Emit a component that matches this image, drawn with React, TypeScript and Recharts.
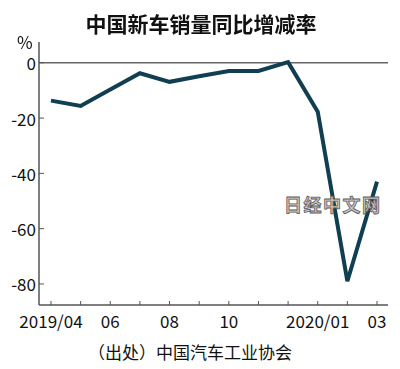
import React from 'react';
import { LineChart, Line, XAxis, YAxis, ReferenceLine } from 'recharts';

const months = ['2019/04', '2019/05', '2019/06', '2019/07', '2019/08', '2019/09', '2019/10', '2019/11', '2019/12', '2020/01', '2020/02', '2020/03'];
const tickLabels = ['2019/04', '', '06', '', '08', '', '10', '', '', '2020/01', '', '03'];
const salesChange = [-13.7, -15.6, -9.7, -3.8, -6.9, -4.9, -3.0, -3.0, 0.2, -17.7, -79.0, -43.0];
const yTicks = [0, -20, -40, -60, -80];

const data = months.map((m, i) => ({ month: m, label: tickLabels[i], value: salesChange[i] }));

const FONT = '"Noto Sans CJK SC", "Noto Sans", sans-serif';

const XTick = (props: any) => {
  const { x, y, index } = props;
  const label = tickLabels[index] ?? '';
  return (
    <g>
      <line x1={x} y1={y - 4} x2={x} y2={y} stroke="#555" strokeWidth={1} />
      {label ? (
        <text x={x} y={y + 23} textAnchor="middle" fontSize={17} fill="#111" fontFamily={FONT}>
          {label}
        </text>
      ) : null}
    </g>
  );
};

const YTick = (props: any) => {
  const { x, y, payload } = props;
  return (
    <g>
      <line x1={x} y1={y} x2={x + 5} y2={y} stroke="#555" strokeWidth={1} />
      <text x={x - 3} y={y} textAnchor="end" dominantBaseline="central" fontSize={17} fill="#111" fontFamily={FONT}>
        {payload.value}
      </text>
    </g>
  );
};

export default function App() {
  return (
    <div style={{ position: 'fixed', left: 0, top: 0, width: 400, height: 369, background: '#fff', fontFamily: FONT }}>
      <LineChart width={400} height={369} data={data} margin={{ top: 42, right: 12, left: 0, bottom: 34 }}>
        <XAxis
          dataKey="month"
          height={30}
          interval={0}
          padding={{ left: 12, right: 11 }}
          tickSize={0}
          tickMargin={0}
          tick={<XTick />}
          axisLine={{ stroke: '#555', strokeWidth: 1.5 }}
          tickLine={false}
        />
        <YAxis
          width={39}
          domain={[-87.6, 7.5]}
          ticks={yTicks}
          allowDataOverflow
          tickSize={0}
          tickMargin={0}
          tick={<YTick />}
          axisLine={{ stroke: '#555', strokeWidth: 1.5 }}
          tickLine={false}
        />
        <ReferenceLine y={0} stroke="#666" strokeWidth={1.5} />
        <Line
          type="linear"
          dataKey="value"
          stroke="#113f52"
          strokeWidth={4}
          dot={false}
          activeDot={false}
          isAnimationActive={false}
        />
      </LineChart>
      <div style={{ position: 'absolute', left: 0, top: 8, width: 402, textAlign: 'center', fontSize: 21, fontWeight: 'bold', color: '#111', lineHeight: '30px' }}>
        中国新车销量同比增减率
      </div>
      <div style={{ position: 'absolute', left: 17, top: 30, fontSize: 17, color: '#111', lineHeight: '24px' }}>%</div>
      <div style={{ position: 'absolute', left: 0, top: 338, width: 380, textAlign: 'center', fontSize: 17, color: '#111', lineHeight: '28px' }}>
        （出处）中国汽车工业协会
      </div>
      <div
        style={{
          position: 'absolute',
          left: 284,
          top: 192,
          fontSize: 18,
          fontWeight: 'bold',
          letterSpacing: 1.5,
          color: '#c8c8c8',
          WebkitTextStroke: '0.8px #5a5a5a',
          lineHeight: '24px',
        }}
      >
        日经中文网
      </div>
    </div>
  );
}
